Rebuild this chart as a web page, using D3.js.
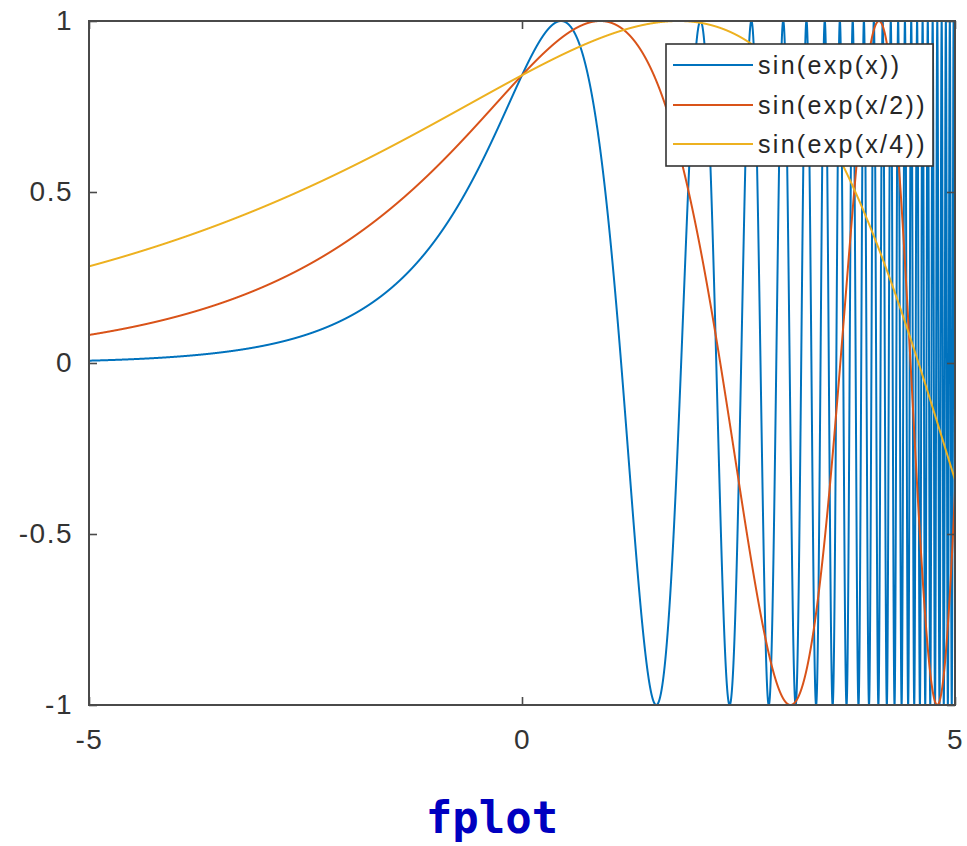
<!DOCTYPE html>
<html>
<head>
<meta charset="utf-8">
<script src="https://cdn.jsdelivr.net/npm/d3@7"></script>
<style>
  html, body { margin: 0; padding: 0; background: #fff; }
  svg { display: block; }
</style>
</head>
<body>
<svg id="chart" width="967" height="846"></svg>
<script>
// Plotted functions and their legend labels
const seriesLabels = ["sin(exp(x))", "sin(exp(x/2))", "sin(exp(x/4))"];
const seriesScale = [1, 2, 4];            // divisor of x inside exp()
const seriesColors = ["#0072BD", "#D95319", "#EDB120"];

// Axis ranges and ticks
const xDomain = [-5, 5];
const yDomain = [-1, 1];
const xTicks = [-5, 0, 5];
const xTickLabels = ["-5", "0", "5"];
const yTicks = [-1, -0.5, 0, 0.5, 1];
const yTickLabels = ["-1", "-0.5", "0", "0.5", "1"];
const titleText = "fplot";

const svg = d3.select("#chart");
const plotL = 89, plotR = 955, plotT = 21, plotB = 705;

const x = d3.scaleLinear().domain(xDomain).range([plotL, plotR]);
const y = d3.scaleLinear().domain(yDomain).range([plotB, plotT]);

// fplot evaluates each function over the x interval
const nSamples = 24000;
const xs = d3.range(nSamples + 1).map(i => xDomain[0] + (xDomain[1] - xDomain[0]) * i / nSamples);
const series = seriesScale.map((k, i) => ({
  label: seriesLabels[i],
  color: seriesColors[i],
  points: xs.map(v => [v, Math.sin(Math.exp(v / k))])
}));

svg.append("clipPath").attr("id", "plotClip")
  .append("rect")
  .attr("x", plotL).attr("y", plotT - 1)
  .attr("width", plotR - plotL + 1).attr("height", plotB - plotT + 2);

const line = d3.line().x(d => x(d[0])).y(d => y(d[1]));

svg.append("g").attr("clip-path", "url(#plotClip)")
  .selectAll("path")
  .data(series)
  .join("path")
  .attr("d", d => line(d.points))
  .attr("fill", "none")
  .attr("stroke", d => d.color)
  .attr("stroke-width", 2)
  .attr("stroke-linejoin", "round");

// Axes: box with inward ticks, mirrored on top and right
const axisColor = "#4a4a4a";
const textColor = "#333333";
const tickLen = 8;
const axisG = svg.append("g");

const bottomAxis = d3.axisBottom(x).tickValues(xTicks).tickSizeInner(-tickLen).tickSizeOuter(0)
  .tickPadding(24).tickFormat(d => xTickLabels[xTicks.indexOf(d)]);
const topAxis = d3.axisTop(x).tickValues(xTicks).tickSizeInner(-tickLen).tickSizeOuter(0).tickFormat("");
const leftAxis = d3.axisLeft(y).tickValues(yTicks).tickSizeInner(-tickLen).tickSizeOuter(0)
  .tickPadding(16).tickFormat(d => yTickLabels[yTicks.indexOf(d)]);
const rightAxis = d3.axisRight(y).tickValues(yTicks).tickSizeInner(-tickLen).tickSizeOuter(0).tickFormat("");

axisG.append("g").attr("transform", `translate(0,${plotB})`).call(bottomAxis);
axisG.append("g").attr("transform", `translate(0,${plotT})`).call(topAxis);
axisG.append("g").attr("transform", `translate(${plotL},0)`).call(leftAxis);
axisG.append("g").attr("transform", `translate(${plotR},0)`).call(rightAxis);

axisG.selectAll(".domain").remove();
axisG.selectAll(".tick line").attr("stroke", axisColor).attr("stroke-width", 1.6);
axisG.selectAll(".tick text")
  .attr("fill", textColor)
  .style("font-family", "'Liberation Sans', Arial, Helvetica, sans-serif")
  .style("font-size", "28px")
  .style("letter-spacing", "1.5px");

axisG.append("rect")
  .attr("x", plotL).attr("y", plotT)
  .attr("width", plotR - plotL).attr("height", plotB - plotT)
  .attr("fill", "none")
  .attr("stroke", axisColor)
  .attr("stroke-width", 2);

// Legend
const lg = { x: 666, y: 44, w: 267, h: 122, rowY: [65, 105, 144] };
const legend = svg.append("g");
legend.append("rect")
  .attr("x", lg.x).attr("y", lg.y).attr("width", lg.w).attr("height", lg.h)
  .attr("fill", "#fff").attr("stroke", "#333").attr("stroke-width", 1.6);
const rows = legend.selectAll("g.row").data(series).join("g").attr("class", "row");
rows.append("line")
  .attr("x1", 673).attr("x2", 753)
  .attr("y1", (d, i) => lg.rowY[i]).attr("y2", (d, i) => lg.rowY[i])
  .attr("stroke", d => d.color).attr("stroke-width", 2);
rows.append("text")
  .attr("x", 758)
  .attr("y", (d, i) => lg.rowY[i])
  .attr("dy", "0.35em")
  .attr("fill", "#262626")
  .style("font-family", "'Liberation Sans', Arial, Helvetica, sans-serif")
  .style("font-size", "25px")
  .style("letter-spacing", "2.3px")
  .text(d => d.label);

// Title below the axes
svg.append("text")
  .attr("x", 492).attr("y", 833)
  .attr("text-anchor", "middle")
  .attr("fill", "#0000C0")
  .style("font-family", "'DejaVu Sans Mono', 'Liberation Mono', monospace")
  .style("font-weight", "bold")
  .style("font-size", "44px")
  .text(titleText);
</script>
</body>
</html>
